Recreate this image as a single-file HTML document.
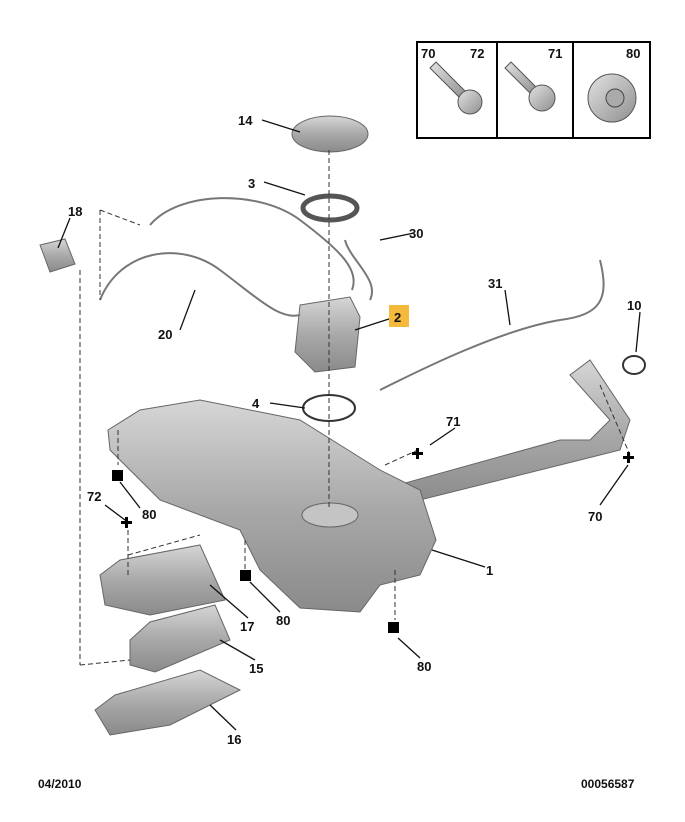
<!DOCTYPE html>
<html><head><meta charset="utf-8"><style>
html,body{margin:0;padding:0;background:#fff}
svg{display:block}
text{font-family:"Liberation Sans",Arial,sans-serif;font-weight:bold;font-size:13px;fill:#111}
</style></head><body>
<svg width="685" height="822" viewBox="0 0 685 822" xmlns="http://www.w3.org/2000/svg">
<defs>
<linearGradient id="g" x1="0" y1="0" x2="0" y2="1"><stop offset="0" stop-color="#d6d6d6"/><stop offset="0.5" stop-color="#a9a9a9"/><stop offset="1" stop-color="#8a8a8a"/></linearGradient>
<linearGradient id="g2" x1="0" y1="0" x2="1" y2="1"><stop offset="0" stop-color="#e2e2e2"/><stop offset="1" stop-color="#8f8f8f"/></linearGradient>
</defs>
<!-- legend box -->
<rect x="417" y="42" width="233" height="96" fill="#fff" stroke="#000" stroke-width="2"/>
<line x1="497" y1="42" x2="497" y2="138" stroke="#000" stroke-width="2"/>
<line x1="573" y1="42" x2="573" y2="138" stroke="#000" stroke-width="2"/>
<text x="421" y="58">70</text><text x="470" y="58">72</text><text x="548" y="58">71</text><text x="626" y="58">80</text>
<path d="M430 68 l30 30 l6 -6 l-30 -30z" fill="url(#g2)" stroke="#555"/>
<circle cx="470" cy="102" r="12" fill="url(#g2)" stroke="#555"/>
<path d="M505 68 l26 26 l6 -6 l-26 -26z" fill="url(#g2)" stroke="#555"/>
<circle cx="542" cy="98" r="13" fill="url(#g2)" stroke="#555"/>
<circle cx="612" cy="98" r="24" fill="url(#g2)" stroke="#555"/>
<circle cx="615" cy="98" r="9" fill="#aaa" stroke="#444"/>
<!-- top parts -->
<ellipse cx="330" cy="134" rx="38" ry="18" fill="url(#g)" stroke="#666"/>
<ellipse cx="330" cy="208" rx="27" ry="12" fill="none" stroke="#555" stroke-width="5"/>
<ellipse cx="329" cy="408" rx="26" ry="13" fill="none" stroke="#333" stroke-width="2"/>
<ellipse cx="634" cy="365" rx="11" ry="9" fill="none" stroke="#333" stroke-width="2"/>
<!-- pump -->
<path d="M300 305 l50 -8 l10 20 l-5 50 l-40 5 l-20 -20 z" fill="url(#g)" stroke="#666"/>
<!-- pipes -->
<path d="M150 225 C180 190 260 190 300 220 C340 250 360 270 352 290" fill="none" stroke="#777" stroke-width="2"/>
<path d="M100 300 C120 250 180 240 220 270 C260 300 280 320 300 315" fill="none" stroke="#777" stroke-width="2"/>
<path d="M345 240 C350 260 380 280 370 300" fill="none" stroke="#777" stroke-width="2"/>
<path d="M380 390 C420 370 500 330 560 320 C600 315 610 300 600 260" fill="none" stroke="#777" stroke-width="2"/>
<!-- filler -->
<path d="M380 490 L560 440 L590 440 L610 420 L570 375 L590 360 L630 420 L620 450 L580 460 L400 505 z" fill="url(#g)" stroke="#666"/>
<!-- tank -->
<path d="M108 430 L140 410 L200 400 L300 420 L380 470 L420 490 L436 540 L420 575 L380 585 L360 612 L300 608 L260 570 L240 530 L160 500 L110 450 z" fill="url(#g)" stroke="#666"/>
<ellipse cx="330" cy="515" rx="28" ry="12" fill="#c4c4c4" stroke="#666"/>
<!-- 17,15,16 -->
<path d="M100 575 L120 560 L200 545 L225 600 L150 615 L105 605 z" fill="url(#g)" stroke="#666"/>
<path d="M130 640 L150 622 L215 605 L230 640 L155 672 L130 665 z" fill="url(#g)" stroke="#666"/>
<path d="M95 710 L115 695 L200 670 L240 690 L170 725 L110 735 z" fill="url(#g)" stroke="#666"/>
<path d="M40 245 l25 -6 l10 25 l-25 8 z" fill="url(#g)" stroke="#666"/>
<!-- dashed -->
<g stroke="#333" stroke-width="1" stroke-dasharray="5,3" fill="none">
<line x1="329" y1="150" x2="329" y2="510"/>
<line x1="80" y1="270" x2="80" y2="665"/>
<line x1="80" y1="665" x2="130" y2="660"/>
<line x1="100" y1="210" x2="100" y2="300"/>
<line x1="100" y1="210" x2="140" y2="225"/>
<line x1="128" y1="530" x2="128" y2="575"/>
<line x1="128" y1="555" x2="200" y2="535"/>
<line x1="245" y1="540" x2="245" y2="570"/>
<line x1="395" y1="570" x2="395" y2="620"/>
<line x1="118" y1="430" x2="118" y2="465"/>
<line x1="385" y1="465" x2="418" y2="450"/>
<line x1="600" y1="385" x2="630" y2="455"/>
</g>
<!-- leaders -->
<g stroke="#111" stroke-width="1.3" fill="none">
<line x1="262" y1="120" x2="300" y2="132"/>
<line x1="264" y1="182" x2="305" y2="195"/>
<line x1="70" y1="218" x2="58" y2="248"/>
<line x1="414" y1="233" x2="380" y2="240"/>
<line x1="505" y1="290" x2="510" y2="325"/>
<line x1="640" y1="312" x2="636" y2="352"/>
<line x1="392" y1="318" x2="355" y2="330"/>
<line x1="180" y1="330" x2="195" y2="290"/>
<line x1="270" y1="403" x2="305" y2="408"/>
<line x1="455" y1="428" x2="430" y2="445"/>
<line x1="140" y1="508" x2="120" y2="482"/>
<line x1="105" y1="505" x2="125" y2="520"/>
<line x1="600" y1="505" x2="628" y2="465"/>
<line x1="485" y1="567" x2="432" y2="550"/>
<line x1="248" y1="618" x2="210" y2="585"/>
<line x1="280" y1="612" x2="250" y2="582"/>
<line x1="255" y1="660" x2="220" y2="640"/>
<line x1="420" y1="658" x2="398" y2="638"/>
<line x1="236" y1="730" x2="210" y2="705"/>
</g>
<!-- markers -->
<g fill="#000">
<rect x="112" y="470" width="11" height="11"/>
<rect x="240" y="570" width="11" height="11"/>
<rect x="388" y="622" width="11" height="11"/>
<path d="M125 517h3v4h4v3h-4v4h-3v-4h-4v-3h4z"/>
<path d="M416 448h3v4h4v3h-4v4h-3v-4h-4v-3h4z"/>
<path d="M627 452h3v4h4v3h-4v4h-3v-4h-4v-3h4z"/>
</g>
<rect x="389" y="305" width="20" height="22" fill="#f5b93c"/>
<text x="394" y="322">2</text>
<text x="238" y="125">14</text><text x="248" y="188">3</text><text x="68" y="216">18</text>
<text x="409" y="238">30</text><text x="488" y="288">31</text><text x="627" y="310">10</text>
<text x="158" y="339">20</text><text x="252" y="408">4</text><text x="446" y="426">71</text>
<text x="142" y="519">80</text><text x="87" y="501">72</text><text x="588" y="521">70</text>
<text x="486" y="575">1</text><text x="240" y="631">17</text><text x="276" y="625">80</text>
<text x="249" y="673">15</text><text x="417" y="671">80</text><text x="227" y="744">16</text>
<text x="38" y="788" style="font-size:12px">04/2010</text>
<text x="581" y="788" style="font-size:12px">00056587</text>
</svg>
</body></html>
